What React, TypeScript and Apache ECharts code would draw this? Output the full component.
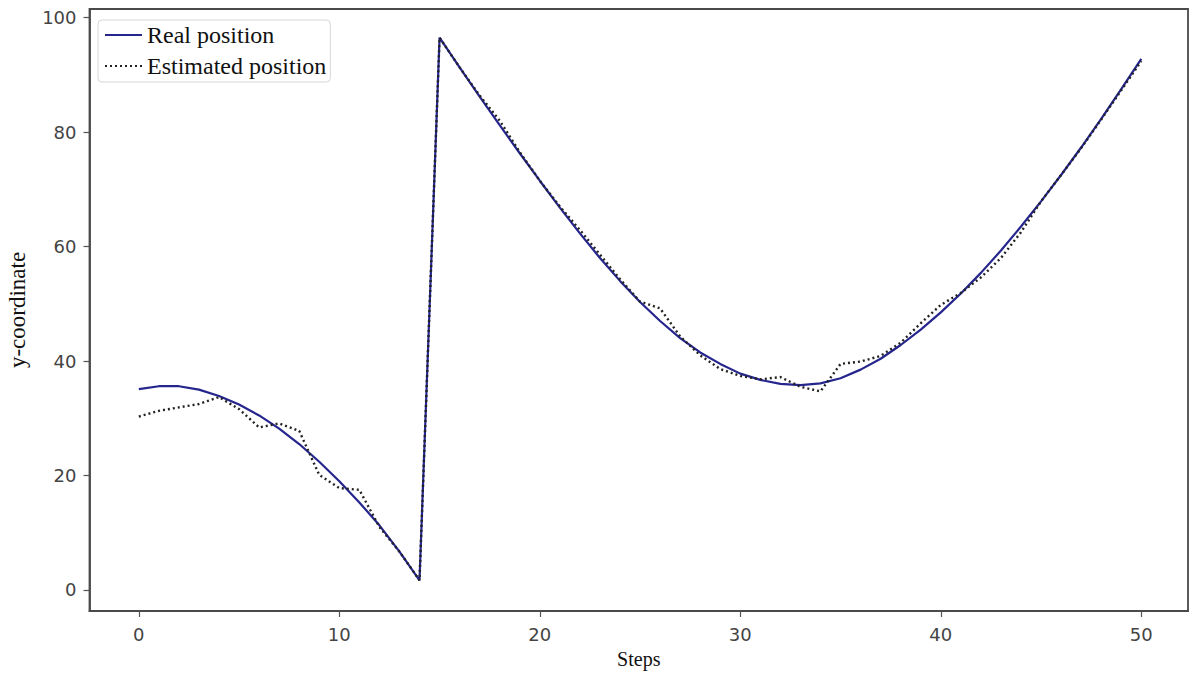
import React, { useEffect, useRef } from "react";
import * as echarts from "echarts";

const steps: number[] = Array.from({ length: 51 }, (_, i) => i);

const realPosition: number[] = [
  35.1, 35.6, 35.6, 35.0, 33.9, 32.4, 30.5, 28.2, 25.5, 22.4,
  19.0, 15.3, 11.3, 6.7, 1.7, 96.5, 91.3, 86.2, 81.2, 76.3,
  71.5, 66.8, 62.3, 58.0, 54.0, 50.3, 47.0, 44.0, 41.5, 39.5,
  37.8, 36.7, 36.0, 35.8, 36.1, 37.0, 38.5, 40.4, 42.8, 45.5,
  48.5, 51.8, 55.4, 59.3, 63.5, 67.9, 72.5, 77.3, 82.3, 87.5,
  92.8,
];

const estimatedPosition: number[] = [
  30.3, 31.3, 31.9, 32.5, 33.7, 31.6, 28.4, 29.1, 27.8, 20.1,
  17.8, 17.5, 11.0, 6.7, 1.7, 96.5, 91.3, 86.4, 82.0, 76.5,
  71.5, 67.0, 62.9, 58.6, 54.3, 50.4, 49.2, 44.3, 41.0, 38.6,
  37.4, 36.8, 37.2, 35.5, 34.7, 39.5, 39.9, 40.9, 43.2, 46.6,
  49.8, 51.9, 54.6, 58.0, 62.5, 67.9, 72.5, 77.2, 82.2, 87.3,
  92.4,
];

const xTicks: number[] = [0, 10, 20, 30, 40, 50];
const yTicks: number[] = [0, 20, 40, 60, 80, 100];

const seriesNames = ["Real position", "Estimated position"];

export default function App() {
  const ref = useRef<HTMLDivElement>(null);

  useEffect(() => {
    if (!ref.current) return;
    const chart = echarts.init(ref.current, undefined, { renderer: "svg" });
    const tickFont = { fontFamily: "DejaVu Sans", fontSize: 18, color: "#444444" };
    chart.setOption({
      animation: false,
      backgroundColor: "#ffffff",
      grid: {
        left: 89.5,
        right: 1,
        top: 9,
        bottom: 69,
        show: true,
        containLabel: false,
        outerBoundsMode: "none",
        borderColor: "#4a4a4a",
        borderWidth: 1.8,
        backgroundColor: "transparent",
      },
      legend: {
        orient: "vertical",
        left: 98,
        top: 20,
        itemWidth: 37,
        itemHeight: 14,
        itemGap: 7,
        padding: [3, 4, 4, 6],
        borderColor: "#d6d6d6",
        borderWidth: 1,
        borderRadius: 4,
        backgroundColor: "rgba(255,255,255,0.8)",
        itemStyle: { opacity: 0 },
        textStyle: { fontFamily: "Liberation Serif", fontSize: 24, color: "#111" },
        data: seriesNames,
      },
      xAxis: {
        type: "value",
        min: -2.46,
        max: 52.33,
        name: "Steps",
        nameLocation: "middle",
        nameGap: 38,
        nameTextStyle: { fontFamily: "Liberation Serif", fontSize: 20, color: "#111" },
        axisLine: { show: true, onZero: false, lineStyle: { color: "#4a4a4a", width: 1.8 } },
        axisTick: { show: true, length: 6, inside: false, customValues: xTicks, lineStyle: { color: "#555555", width: 1.2 } },
        axisLabel: { ...tickFont, margin: 14, customValues: xTicks },
        splitLine: { show: false },
      },
      yAxis: {
        type: "value",
        min: -3.67,
        max: 101.5,
        name: "y-coordinate",
        nameLocation: "middle",
        nameGap: 61,
        nameTextStyle: { fontFamily: "Liberation Serif", fontSize: 23, color: "#111" },
        axisLine: { show: true, onZero: false, lineStyle: { color: "#4a4a4a", width: 1.8 } },
        axisTick: { show: true, length: 6, inside: false, customValues: yTicks, lineStyle: { color: "#555555", width: 1.2 } },
        axisLabel: { ...tickFont, margin: 13, customValues: yTicks },
        splitLine: { show: false },
      },
      series: [
        {
          name: seriesNames[0],
          type: "line",
          symbol: "none",
          data: steps.map((s, i) => [s, realPosition[i]]),
          lineStyle: { color: "#25258e", width: 2.2 },
          itemStyle: { color: "#25258e" },
          z: 2,
        },
        {
          name: seriesNames[1],
          type: "line",
          symbol: "none",
          data: steps.map((s, i) => [s, estimatedPosition[i]]),
          lineStyle: { color: "#222222", width: 2.4, type: [2, 3] },
          itemStyle: { color: "#222222" },
          z: 3,
        },
      ],
    });
    return () => chart.dispose();
  }, []);

  return (
    <div
      ref={ref}
      style={{ position: "fixed", left: 0, top: 0, width: 1189, height: 680, background: "#fff" }}
    />
  );
}
